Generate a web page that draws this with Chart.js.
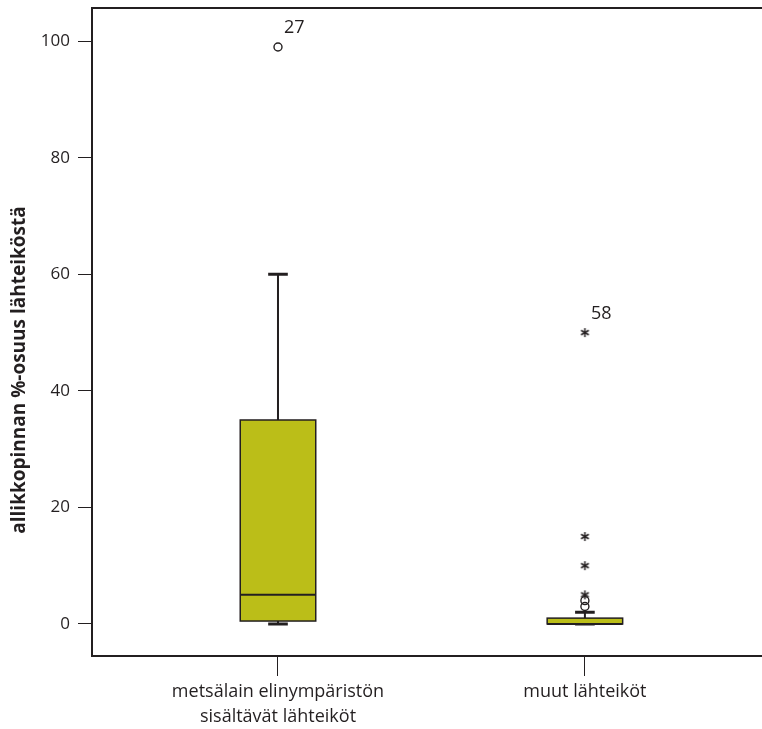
<!DOCTYPE html>
<html>
<head>
<meta charset="utf-8">
<script src="https://cdn.jsdelivr.net/npm/chart.js@4"></script>
<style>
  html, body { margin: 0; padding: 0; background: #fff; overflow: hidden; }
  canvas { display: block; }
</style>
</head>
<body>
<canvas id="boxChart" width="762" height="729"></canvas>
<script>
// Box plot data: one entry per group
const categories = [['metsälain elinympäristön', 'sisältävät lähteiköt'], 'muut lähteiköt'];
const boxQ1 = [0.5, 0];
const boxMedian = [5, 0];
const boxQ3 = [35, 1];
const whiskerLow = [0, 0];
const whiskerHigh = [60, 2];
// outliers (o) and extremes (*) per group
const outlierCircles = [[99], [3, 4]];
const outlierStars = [[], [5, 10, 15, 50]];
// case numbers written next to some points
const caseGroups = [1, 2];
const caseValues = [99, 50];
const caseLabels = ['27', '58'];
const yTicks = [0, 20, 40, 60, 80, 100];

const INK = '#231f20';
const BOX_FILL = '#bbbe18';
const FONT = '"Open Sans", Lato, sans-serif';

// asterisk marker for extreme values
function makeStar() {
  const c = document.createElement('canvas');
  c.width = 13; c.height = 13;
  const g = c.getContext('2d');
  g.strokeStyle = INK;
  g.lineWidth = 1.5;
  g.translate(6.5, 6.5);
  for (let i = 0; i < 3; i++) {
    const a = Math.PI / 2 + i * Math.PI / 3;
    g.beginPath();
    g.moveTo(Math.cos(a) * 4.5, Math.sin(a) * 4.5);
    g.lineTo(-Math.cos(a) * 4.5, -Math.sin(a) * 4.5);
    g.stroke();
  }
  return c;
}

const circlePoints = [];
const starPoints = [];
outlierCircles.forEach((vals, i) => vals.forEach(v => circlePoints.push({ x: i + 1, y: v })));
outlierStars.forEach((vals, i) => vals.forEach(v => starPoints.push({ x: i + 1, y: v })));

const boxPlugin = {
  id: 'boxes',
  beforeDatasetsDraw(chart) {
    const { ctx, scales: { x, y }, chartArea } = chart;
    ctx.save();
    // top frame line
    ctx.strokeStyle = INK;
    ctx.lineWidth = 2;
    ctx.beginPath();
    ctx.moveTo(chartArea.left, chartArea.top);
    ctx.lineTo(chartArea.right, chartArea.top);
    ctx.stroke();

    const halfBox = 0.123, halfCap = 0.032;
    categories.forEach((c, i) => {
      const cx = x.getPixelForValue(i + 1);
      const l = x.getPixelForValue(i + 1 - halfBox);
      const r = x.getPixelForValue(i + 1 + halfBox);
      const cl = x.getPixelForValue(i + 1 - halfCap);
      const cr = x.getPixelForValue(i + 1 + halfCap);
      const yq1 = y.getPixelForValue(boxQ1[i]);
      const yq3 = y.getPixelForValue(boxQ3[i]);
      const ymed = y.getPixelForValue(boxMedian[i]);
      const ylo = y.getPixelForValue(whiskerLow[i]);
      const yhi = y.getPixelForValue(whiskerHigh[i]);

      // whiskers
      ctx.strokeStyle = INK;
      ctx.lineWidth = 2;
      ctx.beginPath();
      ctx.moveTo(cx, yq3); ctx.lineTo(cx, yhi);
      ctx.moveTo(cx, yq1); ctx.lineTo(cx, ylo);
      ctx.stroke();
      ctx.lineWidth = 3;
      ctx.beginPath();
      ctx.moveTo(cl, yhi); ctx.lineTo(cr, yhi);
      ctx.moveTo(cl, ylo); ctx.lineTo(cr, ylo);
      ctx.stroke();

      // box
      ctx.fillStyle = BOX_FILL;
      ctx.fillRect(l, yq3, r - l, yq1 - yq3);
      ctx.lineWidth = 1.5;
      ctx.strokeRect(l, yq3, r - l, yq1 - yq3);

      // median
      ctx.lineWidth = 2;
      ctx.beginPath();
      ctx.moveTo(l, ymed); ctx.lineTo(r, ymed);
      ctx.stroke();
    });
    ctx.restore();
  },
  afterDatasetsDraw(chart) {
    const { ctx, scales: { x, y } } = chart;
    ctx.save();
    ctx.fillStyle = INK;
    ctx.font = '18px ' + FONT;
    ctx.textAlign = 'left';
    ctx.textBaseline = 'middle';
    caseLabels.forEach((t, i) => {
      const px = x.getPixelForValue(caseGroups[i]);
      const py = y.getPixelForValue(caseValues[i]);
      ctx.fillText(t, px + 6, py - 19);
    });

    // y axis title
    ctx.font = 'bold 19px ' + FONT;
    ctx.textAlign = 'center';
    ctx.translate(20, 370);
    ctx.rotate(-Math.PI / 2);
    ctx.fillText('allikkopinnan %-osuus lähteiköstä', 0, 0);
    ctx.restore();
  }
};

new Chart(document.getElementById('boxChart'), {
  type: 'scatter',
  data: {
    datasets: [{
      data: circlePoints,
      pointStyle: 'circle',
      pointRadius: 4,
      pointBorderWidth: 1.4,
      pointBackgroundColor: 'rgba(0,0,0,0)',
      pointBorderColor: INK
    }, {
      data: starPoints,
      pointStyle: makeStar(),
      pointRadius: 6
    }]
  },
  options: {
    responsive: false,
    animation: false,
    events: [],
    layout: { autoPadding: false, padding: { top: 8, left: 0, right: 0, bottom: 0 } },
    plugins: {
      legend: { display: false },
      tooltip: { enabled: false }
    },
    scales: {
      x: {
        type: 'linear',
        min: 0.394,
        max: 2.577,
        afterBuildTicks(scale) {
          scale.ticks = [{ value: 1 }, { value: 2 }];
        },
        afterFit(scale) {
          scale.height = 73;
          scale.paddingLeft = 0;
          scale.paddingRight = 0;
        },
        ticks: {
          color: INK,
          padding: 4,
          maxRotation: 0,
          font: { family: FONT, size: 18, lineHeight: 1.35 },
          callback: v => categories[v - 1]
        },
        grid: {
          drawOnChartArea: false,
          drawTicks: true,
          tickLength: 20,
          color: INK,
          lineWidth: 1
        },
        border: { display: true, color: INK, width: 2 }
      },
      y: {
        min: -5.5,
        max: 105.7,
        afterBuildTicks(scale) {
          scale.ticks = yTicks.map(v => ({ value: v }));
        },
        afterFit(scale) {
          scale.width = 92;
          scale.paddingTop = 0;
          scale.paddingBottom = 0;
        },
        ticks: {
          color: INK,
          padding: 8,
          font: { family: FONT, size: 17 }
        },
        grid: {
          drawOnChartArea: false,
          drawTicks: true,
          tickLength: 14,
          color: INK,
          lineWidth: 1
        },
        border: { display: true, color: INK, width: 2 }
      }
    }
  },
  plugins: [boxPlugin]
});
</script>
</body>
</html>
